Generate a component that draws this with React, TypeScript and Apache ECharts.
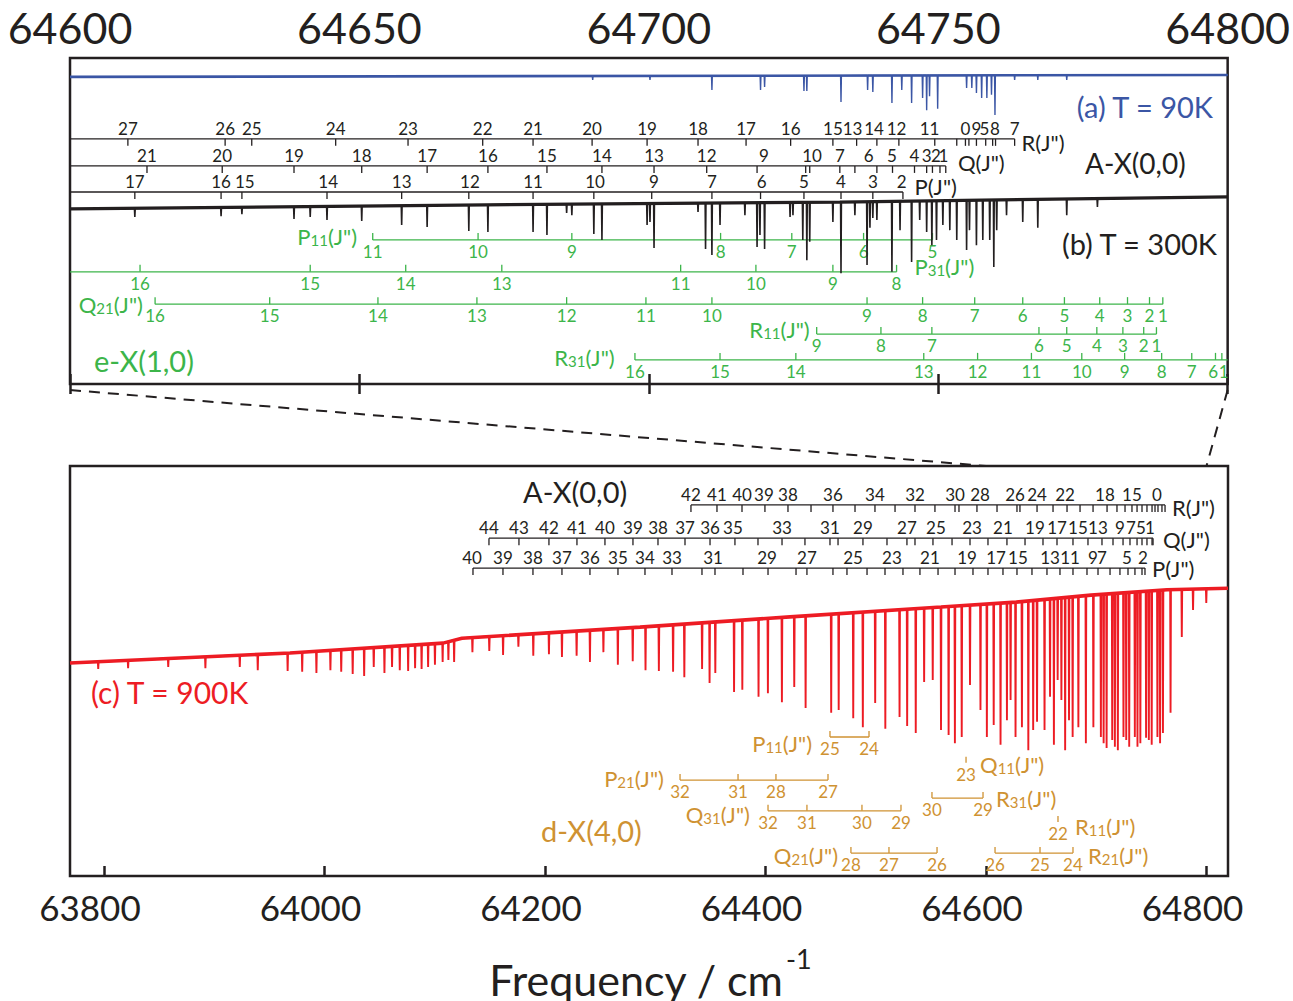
import React, { useEffect, useRef } from "react";
import * as echarts from "echarts";

type Pt = [number, number];
type Lbl = [number, string];

const FONT = "Lato, 'Noto Sans', 'DejaVu Sans', sans-serif";
const INK = "#231f20";
const BLUE = "#3b56a5";
const RED = "#ed1c24";
const GREEN = "#3cb54a";
const GOLD = "#cf9232";

// ---------- axes ----------
const TOP_RANGE: Pt = [64600, 64800];
const BOTTOM_RANGE: Pt = [63769.2, 64819.5];
const BOTTOM_TICKS = [63800, 64000, 64200, 64400, 64600, 64800];

// ---------- (a) T = 90 K : baseline knots and absorption minima ----------
const BASE_90K: Pt[] = [[64600, 94.2], [64800, 94.8]];
const LINES_90K: Pt[] = [
  [64690.3, 93.3], [64700.2, 93.3], [64710.9, 90.2], [64719.3, 90.2], [64720.0, 91.1],
  [64726.8, 89.9], [64727.3, 89.9], [64733.2, 86.5], [64737.8, 90.2], [64738.7, 89.6],
  [64742.0, 86.2], [64743.7, 90.2], [64745.4, 86.2], [64747.3, 87.7], [64748.0, 84.0],
  [64748.5, 88.3], [64749.9, 84.4], [64754.9, 90.8], [64755.8, 90.8], [64756.6, 89.3],
  [64757.5, 87.7], [64758.4, 87.7], [64759.2, 88.7], [64759.8, 82.5], [64763.2, 93.3],
  [64767.2, 93.3], [64772.2, 93.3],
];

// ---------- (b) T = 300 K ----------
const BASE_300K: Pt[] = [[64600, 53.7], [64667.4, 54.9], [64733.0, 55.8], [64800, 57.4]];
const LINES_300K: Pt[] = [
  [64611.2, 51.2], [64626.1, 51.5], [64629.7, 52.1], [64638.7, 50.6], [64641.5, 51.2],
  [64644.4, 50.3], [64650.4, 50.0], [64657.3, 48.8], [64661.7, 48.2], [64668.9, 46.9],
  [64672.2, 46.6], [64680.0, 46.6], [64682.4, 45.7], [64685.8, 52.5], [64686.7, 51.8],
  [64690.5, 46.0], [64691.9, 44.2], [64699.7, 48.8], [64700.2, 49.7], [64700.9, 41.7],
  [64708.5, 52.8], [64709.8, 41.4], [64710.9, 39.6], [64712.3, 48.8], [64716.6, 51.8],
  [64718.7, 42.0], [64719.2, 45.7], [64720.0, 41.4], [64724.4, 51.2], [64724.9, 51.8],
  [64726.6, 44.2], [64727.3, 38.0], [64727.8, 43.6], [64731.8, 49.7], [64733.2, 34.0],
  [64735.6, 51.8], [64737.7, 36.5], [64738.2, 47.9], [64738.7, 50.9], [64739.4, 50.3],
  [64742.0, 34.4], [64743.4, 47.2], [64745.4, 37.4], [64746.8, 50.3], [64748.0, 46.6],
  [64748.9, 42.6], [64749.7, 44.2], [64750.8, 48.8], [64752.0, 47.2], [64753.2, 44.2],
  [64754.9, 41.1], [64755.4, 47.2], [64756.6, 42.6], [64757.7, 44.2], [64758.9, 44.2],
  [64759.6, 35.9], [64760.1, 47.2], [64761.8, 51.8], [64764.6, 49.7], [64767.2, 47.9],
  [64772.2, 51.8], [64777.5, 54.3],
];

// ---------- (c) T = 900 K ----------
const BASE_900K: Pt[] = [
  [63769.2, 51.95], [63968.7, 54.4], [64107.5, 56.8], [64124.7, 58.0], [64286.2, 60.7],
  [64422.2, 63.2], [64559.2, 65.6], [64627.2, 66.8], [64695.2, 68.5], [64764.2, 69.8],
  [64819.5, 70.2],
];
const LINES_900K: Pt[] = [
  [63794.8, 50.5], [63821.9, 50.7], [63858.3, 51.0], [63892.0, 50.7], [63923.2, 51.0],
  [63939.5, 50.2], [63966.6, 50.0], [63979.8, 49.8], [63992.7, 49.5], [64005.4, 50.2],
  [64015.2, 49.8], [64025.6, 49.3], [64036.0, 48.8], [64044.7, 51.0], [64054.4, 49.5],
  [64061.3, 51.0], [64068.3, 50.2], [64075.9, 50.0], [64082.2, 50.7], [64088.1, 50.5],
  [64094.0, 51.0], [64100.2, 51.5], [64107.2, 52.2], [64112.4, 52.7], [64117.6, 52.2],
  [64134.2, 54.6], [64149.5, 54.9], [64162.0, 53.9], [64175.9, 55.9], [64189.4, 53.7],
  [64203.6, 54.1], [64215.4, 53.4], [64228.7, 53.7], [64240.8, 52.2], [64253.0, 54.6],
  [64266.1, 51.5], [64279.6, 52.4], [64291.2, 50.2], [64303.3, 50.0], [64316.2, 49.8],
  [64326.4, 48.5], [64342.5, 50.5], [64349.3, 47.1], [64354.5, 49.5], [64371.5, 44.9],
  [64379.0, 45.4], [64393.7, 43.7], [64402.2, 44.6], [64414.9, 42.4], [64426.1, 46.1],
  [64436.4, 41.0], [64459.6, 39.8], [64466.4, 40.5], [64479.6, 38.5], [64488.3, 36.3],
  [64499.5, 42.2], [64508.7, 35.9], [64521.6, 38.8], [64528.5, 36.6], [64536.3, 34.9],
  [64543.9, 47.3], [64551.7, 47.8], [64559.2, 35.6], [64566.1, 34.4], [64571.8, 32.4],
  [64578.0, 33.9], [64585.5, 46.6], [64595.0, 40.5], [64600.8, 33.9], [64607.0, 36.8],
  [64613.2, 32.0], [64619.0, 38.0], [64622.3, 42.9], [64626.8, 33.9], [64632.6, 36.3],
  [64638.4, 30.7], [64642.8, 35.6], [64646.3, 37.6], [64653.1, 35.6], [64658.1, 43.7],
  [64661.6, 32.0], [64665.0, 47.8], [64668.4, 42.9], [64671.8, 30.7], [64675.3, 38.0],
  [64678.6, 33.9], [64683.8, 36.3], [64690.6, 32.4], [64697.4, 36.3], [64704.2, 33.9],
  [64706.7, 32.4], [64709.4, 31.2], [64714.5, 33.2], [64716.9, 31.5], [64719.6, 30.7],
  [64724.7, 33.9], [64727.2, 33.2], [64729.9, 31.5], [64735.0, 33.9], [64737.4, 31.5],
  [64740.0, 32.4], [64745.2, 33.7], [64747.7, 33.2], [64750.3, 32.0], [64755.5, 33.9],
  [64757.9, 32.4], [64760.5, 34.9], [64767.4, 39.8], [64777.6, 58.3], [64787.8, 64.9],
  [64799.8, 66.6],
];

// ---------- A-X(0,0) assignments, top panel ----------
const TOP_R_TICKS = [
  64610.0, 64626.8, 64631.4, 64645.9, 64658.4, 64671.3, 64680.0, 64690.2, 64699.7, 64708.5,
  64716.8, 64724.5, 64731.8, 64735.9, 64739.4, 64743.2, 64749.4, 64753.2, 64754.7, 64755.3,
  64756.6, 64758.2, 64759.4, 64759.9, 64763.2,
];
const TOP_R_LABELS: Lbl[] = [
  [64610.0, "27"], [64626.8, "26"], [64631.4, "25"], [64645.9, "24"], [64658.4, "23"],
  [64671.3, "22"], [64680.0, "21"], [64690.2, "20"], [64699.7, "19"], [64708.5, "18"],
  [64716.8, "17"], [64724.5, "16"], [64731.8, "15"], [64735.2, "13"], [64738.9, "14"],
  [64742.8, "12"], [64748.5, "11"], [64754.7, "0"], [64756.6, "9"], [64758.0, "5"],
  [64759.8, "8"], [64763.2, "7"],
];
const TOP_Q_TICKS = [
  64613.3, 64626.3, 64638.7, 64650.4, 64661.7, 64672.2, 64682.4, 64691.9, 64700.9, 64710.0,
  64718.7, 64727.1, 64727.8, 64733.0, 64735.6, 64739.4, 64742.1, 64745.9, 64748.0, 64749.0,
  64750.3, 64751.3,
];
const TOP_Q_LABELS: Lbl[] = [
  [64613.3, "21"], [64626.3, "20"], [64638.7, "19"], [64650.4, "18"], [64661.7, "17"],
  [64672.2, "16"], [64682.4, "15"], [64691.9, "14"], [64700.9, "13"], [64710.0, "12"],
  [64719.9, "9"], [64728.2, "10"], [64733.0, "7"], [64738.0, "6"], [64742.0, "5"],
  [64745.9, "4"], [64748.0, "3"], [64749.6, "2"], [64750.9, "1"],
];
const TOP_P_TICKS = [
  64611.2, 64626.1, 64629.7, 64644.4, 64657.3, 64668.9, 64680.0, 64690.5, 64700.5, 64710.9,
  64719.3, 64726.8, 64733.2, 64738.7, 64743.9,
];
const TOP_P_LABELS: Lbl[] = [
  [64611.2, "17"], [64626.1, "16"], [64630.2, "15"], [64644.6, "14"], [64657.3, "13"],
  [64669.1, "12"], [64680.0, "11"], [64690.7, "10"], [64700.9, "9"], [64710.9, "7"],
  [64719.5, "6"], [64726.8, "5"], [64733.2, "4"], [64738.7, "3"], [64743.7, "2"],
];

// ---------- e-X(1,0) assignments ----------
const EX_P11_TICKS = [64652.3, 64670.5, 64686.7, 64712.4, 64724.7, 64737.1, 64749.0];
const EX_P11_J = ["11", "10", "9", "8", "7", "6", "5"];
const EX_P31_TICKS = [64612.1, 64641.5, 64658.0, 64674.6, 64705.5, 64718.5, 64731.8, 64742.8];
const EX_P31_J = ["16", "15", "14", "13", "11", "10", "9", "8"];
const EX_Q21_TICKS = [
  64614.7, 64634.5, 64653.2, 64670.3, 64685.8, 64699.5, 64710.9, 64737.7, 64747.3, 64756.3,
  64764.6, 64771.8, 64777.9, 64782.7, 64786.5, 64788.8,
];
const EX_Q21_J = ["16", "15", "14", "13", "12", "11", "10", "9", "8", "7", "6", "5", "4", "3", "2", "1"];
const EX_R11_TICKS = [64729.0, 64740.1, 64748.9, 64767.4, 64772.2, 64777.4, 64781.9, 64785.5, 64787.7];
const EX_R11_J = ["9", "8", "7", "6", "5", "4", "3", "2", "1"];
const EX_R31_TICKS = [
  64697.6, 64712.3, 64725.4, 64747.5, 64756.8, 64766.1, 64774.8, 64782.2, 64788.6, 64793.8,
  64797.9, 64799.0,
];
const EX_R31_LABELS: Lbl[] = [
  [64697.6, "16"], [64712.3, "15"], [64725.4, "14"], [64747.5, "13"], [64756.8, "12"],
  [64766.1, "11"], [64774.8, "10"], [64782.2, "9"], [64788.6, "8"], [64793.8, "7"],
  [64797.5, "6"], [64799.3, "1"],
];

// ---------- A-X(0,0) assignments, bottom panel ----------
const BOT_R_TICKS = [
  64332.4, 64356.0, 64378.7, 64399.5, 64420.4, 64441.3, 64461.2, 64481.2, 64499.3, 64517.5,
  64535.6, 64553.7, 64571.9, 64575.5, 64591.8, 64610.0, 64628.1, 64630.8, 64646.3, 64660.8,
  64673.5, 64685.3, 64697.1, 64709.8, 64718.8, 64726.1, 64732.4, 64737.0, 64741.5, 64746.0,
  64750.6, 64753.3, 64756.0, 64759.6, 64762.4,
];
const BOT_R_LABELS: Lbl[] = [
  [64332.4, "42"], [64356.0, "41"], [64378.7, "40"], [64398.6, "39"], [64420.4, "38"],
  [64461.2, "36"], [64499.3, "34"], [64535.6, "32"], [64571.9, "30"], [64594.6, "28"],
  [64626.3, "26"], [64646.3, "24"], [64671.7, "22"], [64707.9, "18"], [64732.4, "15"],
  [64755.1, "0"],
];
const BOT_Q_TICKS = [
  64149.2, 64176.4, 64203.6, 64229.0, 64254.4, 64279.8, 64302.5, 64327.0, 64349.7, 64372.3,
  64393.2, 64415.0, 64435.8, 64458.5, 64465.8, 64488.4, 64510.2, 64528.3, 64535.6, 64551.9,
  64569.2, 64585.5, 64601.8, 64619.0, 64635.4, 64651.7, 64664.4, 64678.9, 64692.5, 64705.2,
  64715.2, 64724.3, 64730.6, 64737.0, 64741.5, 64746.0, 64750.6, 64751.5,
];
const BOT_Q_LABELS: Lbl[] = [
  [64149.2, "44"], [64176.4, "43"], [64203.6, "42"], [64229.0, "41"], [64254.4, "40"],
  [64279.8, "39"], [64302.5, "38"], [64327.0, "37"], [64349.7, "36"], [64370.5, "35"],
  [64415.0, "33"], [64458.5, "31"], [64488.4, "29"], [64528.3, "27"], [64554.6, "25"],
  [64587.3, "23"], [64615.4, "21"], [64644.4, "19"], [64664.4, "17"], [64683.4, "15"],
  [64701.5, "13"], [64721.5, "9"], [64731.5, "7"], [64740.6, "5"], [64748.8, "1"],
];
const BOT_P_TICKS = [
  64134.7, 64161.9, 64189.1, 64215.4, 64240.8, 64266.2, 64290.7, 64315.2, 64342.4, 64354.2,
  64379.6, 64402.3, 64427.7, 64437.6, 64461.2, 64473.9, 64492.1, 64508.4, 64524.7, 64540.1,
  64556.5, 64571.9, 64588.2, 64601.8, 64615.4, 64628.1, 64641.7, 64655.3, 64667.1, 64678.9,
  64691.6, 64701.6, 64712.5, 64721.5, 64728.8, 64735.1, 64741.5, 64744.2,
];
const BOT_P_LABELS: Lbl[] = [
  [64133.8, "40"], [64161.9, "39"], [64189.1, "38"], [64215.4, "37"], [64240.8, "36"],
  [64266.2, "35"], [64290.7, "34"], [64315.2, "33"], [64352.4, "31"], [64401.4, "29"],
  [64437.6, "27"], [64479.4, "25"], [64514.7, "23"], [64549.2, "21"], [64582.8, "19"],
  [64609.1, "17"], [64629.0, "15"], [64658.1, "13"], [64676.2, "11"], [64697.1, "9"],
  [64705.2, "7"], [64727.9, "5"], [64742.4, "2"],
];

// ---------- d-X(4,0) assignments ----------
const DX_P11_TICKS = [64458.5, 64493.9];
const DX_P11_J = ["25", "24"];
const DX_P21_TICKS = [64322.5, 64375.1, 64409.5, 64456.7];
const DX_P21_J = ["32", "31", "28", "27"];
const DX_Q31_TICKS = [64402.3, 64437.6, 64487.5, 64522.9];
const DX_Q31_J = ["32", "31", "30", "29"];
const DX_Q21_TICKS = [64477.5, 64512.0, 64555.6];
const DX_Q21_J = ["28", "27", "26"];
const DX_Q11_TICKS = [64581.9];
const DX_Q11_J = ["23"];
const DX_R31_TICKS = [64551.0, 64597.3];
const DX_R31_J = ["30", "29"];
const DX_R11_TICKS = [64665.3];
const DX_R11_J = ["22"];
const DX_R21_TICKS = [64608.2, 64649.0, 64678.9];
const DX_R21_J = ["26", "25", "24"];

// ---------- helpers ----------
function baselineAt(base: Pt[], f: number): number {
  for (let i = 0; i < base.length - 1; i++) {
    const [x0, y0] = base[i];
    const [x1, y1] = base[i + 1];
    if (f >= x0 && f <= x1) return y0 + ((f - x0) / (x1 - x0)) * (y1 - y0);
  }
  return f < base[0][0] ? base[0][1] : base[base.length - 1][1];
}

// spectrum polyline: baseline knots plus a narrow notch for every absorption line
function traceData(base: Pt[], lines: Pt[], halfWidth: number): Pt[] {
  const pts: Pt[] = base.map((p) => [p[0], p[1]] as Pt);
  for (const [f, v] of lines) {
    const b = baselineAt(base, f);
    pts.push([f - halfWidth, b], [f, v], [f + halfWidth, b]);
  }
  return pts.sort((a, b) => a[0] - b[0]);
}

interface Ladder {
  grid: 0 | 1;
  level: number;
  ticks: number[];
  labels: Lbl[];
  up: boolean;
  color: string;
  tickLen: number;
  from?: number;
  to?: number;
}

const zip = (ticks: number[], j: string[]): Lbl[] => ticks.map((t, i) => [t, j[i]] as Lbl);

function ladderSeries(l: Ladder): any[] {
  const xi = l.grid === 0 ? 0 : 2;
  const yi = l.grid;
  const lo = l.from ?? Math.min(...l.ticks);
  const hi = l.to ?? Math.max(...l.ticks);
  const out: any[] = [];
  if (hi > lo) {
    out.push({
      type: "line", xAxisIndex: xi, yAxisIndex: yi, silent: true, z: 3,
      data: [[lo, l.level], [hi, l.level]], symbol: "none",
      lineStyle: { color: l.color, width: 1.3 },
    });
  }
  out.push({
    type: "custom", xAxisIndex: xi, yAxisIndex: yi, silent: true, z: 3, clip: false,
    encode: { x: 0, y: 1 },
    data: l.ticks.map((f) => [f, l.level]),
    renderItem: (_p: any, api: any) => {
      const c = api.coord([api.value(0), api.value(1)]);
      return {
        type: "line",
        shape: { x1: c[0], y1: c[1], x2: c[0], y2: c[1] + (l.up ? -l.tickLen : l.tickLen) },
        style: { stroke: l.color, lineWidth: 1.3 },
      };
    },
  });
  out.push({
    type: "custom", xAxisIndex: xi, yAxisIndex: yi, silent: true, z: 4, clip: false,
    encode: { x: 0, y: 1 },
    data: l.labels.map(([f]) => [f, l.level]),
    renderItem: (p: any, api: any) => {
      const c = api.coord([api.value(0), api.value(1)]);
      return {
        type: "text",
        x: c[0],
        y: l.up ? c[1] + 3 : c[1] - 2,
        style: {
          text: l.labels[p.dataIndex][1], fill: l.color, fontSize: 17, fontFamily: FONT,
          align: "center", verticalAlign: l.up ? "top" : "bottom",
        },
      };
    },
  });
  return out;
}

interface Tag { grid: 0 | 1; at: Pt; text: string; align: "left" | "right"; color: string; }

function tagSeries(tags: Tag[], grid: 0 | 1): any {
  const list = tags.filter((t) => t.grid === grid);
  return {
    type: "custom", xAxisIndex: grid === 0 ? 0 : 2, yAxisIndex: grid, silent: true, z: 4, clip: false,
    encode: { x: 0, y: 1 },
    data: list.map((t) => t.at),
    renderItem: (p: any, api: any) => {
      const t = list[p.dataIndex];
      const c = api.coord([api.value(0), api.value(1)]);
      return {
        type: "text", x: c[0], y: c[1],
        style: {
          text: t.text, fill: t.color, fontSize: 22, fontFamily: FONT, lineHeight: 22,
          align: t.align, verticalAlign: "middle",
          rich: { s: { fontSize: 15, lineHeight: 8, verticalAlign: "bottom", fill: t.color, fontFamily: FONT } },
        },
      };
    },
  };
}

const LADDERS: Ladder[] = [
  // A-X(0,0) top
  { grid: 0, level: 75.2, ticks: TOP_R_TICKS, labels: TOP_R_LABELS, up: false, color: INK, tickLen: 7, from: 64600 },
  { grid: 0, level: 66.9, ticks: TOP_Q_TICKS, labels: TOP_Q_LABELS, up: false, color: INK, tickLen: 7, from: 64600 },
  { grid: 0, level: 58.9, ticks: TOP_P_TICKS, labels: TOP_P_LABELS, up: false, color: INK, tickLen: 7, from: 64600 },
  // e-X(1,0)
  { grid: 0, level: 44.2, ticks: EX_P11_TICKS, labels: zip(EX_P11_TICKS, EX_P11_J), up: true, color: GREEN, tickLen: 7 },
  { grid: 0, level: 34.4, ticks: EX_P31_TICKS, labels: zip(EX_P31_TICKS, EX_P31_J), up: true, color: GREEN, tickLen: 7, from: 64600 },
  { grid: 0, level: 24.5, ticks: EX_Q21_TICKS, labels: zip(EX_Q21_TICKS, EX_Q21_J), up: true, color: GREEN, tickLen: 7 },
  { grid: 0, level: 15.3, ticks: EX_R11_TICKS, labels: zip(EX_R11_TICKS, EX_R11_J), up: true, color: GREEN, tickLen: 7 },
  { grid: 0, level: 7.4, ticks: EX_R31_TICKS, labels: EX_R31_LABELS, up: true, color: GREEN, tickLen: 7, to: 64800 },
  // A-X(0,0) bottom
  { grid: 1, level: 90.5, ticks: BOT_R_TICKS, labels: BOT_R_LABELS, up: false, color: INK, tickLen: 7 },
  { grid: 1, level: 82.4, ticks: BOT_Q_TICKS, labels: BOT_Q_LABELS, up: false, color: INK, tickLen: 7 },
  { grid: 1, level: 75.1, ticks: BOT_P_TICKS, labels: BOT_P_LABELS, up: false, color: INK, tickLen: 7 },
  // d-X(4,0)
  { grid: 1, level: 33.9, ticks: DX_P11_TICKS, labels: zip(DX_P11_TICKS, DX_P11_J), up: true, color: GOLD, tickLen: 6 },
  { grid: 1, level: 23.4, ticks: DX_P21_TICKS, labels: zip(DX_P21_TICKS, DX_P21_J), up: true, color: GOLD, tickLen: 6 },
  { grid: 1, level: 15.9, ticks: DX_Q31_TICKS, labels: zip(DX_Q31_TICKS, DX_Q31_J), up: true, color: GOLD, tickLen: 6 },
  { grid: 1, level: 5.6, ticks: DX_Q21_TICKS, labels: zip(DX_Q21_TICKS, DX_Q21_J), up: true, color: GOLD, tickLen: 6 },
  { grid: 1, level: 27.6, ticks: DX_Q11_TICKS, labels: zip(DX_Q11_TICKS, DX_Q11_J), up: true, color: GOLD, tickLen: 6 },
  { grid: 1, level: 19.0, ticks: DX_R31_TICKS, labels: zip(DX_R31_TICKS, DX_R31_J), up: true, color: GOLD, tickLen: 6 },
  { grid: 1, level: 13.2, ticks: DX_R11_TICKS, labels: zip(DX_R11_TICKS, DX_R11_J), up: true, color: GOLD, tickLen: 6 },
  { grid: 1, level: 5.6, ticks: DX_R21_TICKS, labels: zip(DX_R21_TICKS, DX_R21_J), up: true, color: GOLD, tickLen: 6 },
];

const TAGS: Tag[] = [
  { grid: 0, at: [64764.4, 74.2], text: 'R(J")', align: "left", color: INK },
  { grid: 0, at: [64753.4, 67.8], text: 'Q(J")', align: "left", color: INK },
  { grid: 0, at: [64745.9, 60.7], text: 'P(J")', align: "left", color: INK },
  { grid: 0, at: [64649.6, 45.1], text: 'P{s|11}(J")', align: "right", color: GREEN },
  { grid: 0, at: [64745.9, 35.9], text: 'P{s|31}(J")', align: "left", color: GREEN },
  { grid: 0, at: [64612.6, 24.3], text: 'Q{s|21}(J")', align: "right", color: GREEN },
  { grid: 0, at: [64727.8, 16.6], text: 'R{s|11}(J")', align: "right", color: GREEN },
  { grid: 0, at: [64694.1, 8.0], text: 'R{s|31}(J")', align: "right", color: GREEN },
  { grid: 1, at: [64768.7, 89.8], text: 'R(J")', align: "left", color: INK },
  { grid: 1, at: [64760.5, 82.0], text: 'Q(J")', align: "left", color: INK },
  { grid: 1, at: [64750.6, 75.1], text: 'P(J")', align: "left", color: INK },
  { grid: 1, at: [64442.2, 32.2], text: 'P{s|11}(J")', align: "right", color: GOLD },
  { grid: 1, at: [64307.9, 23.9], text: 'P{s|21}(J")', align: "right", color: GOLD },
  { grid: 1, at: [64385.9, 15.0], text: 'Q{s|31}(J")', align: "right", color: GOLD },
  { grid: 1, at: [64465.8, 5.1], text: 'Q{s|21}(J")', align: "right", color: GOLD },
  { grid: 1, at: [64594.6, 27.3], text: 'Q{s|11}(J")', align: "left", color: GOLD },
  { grid: 1, at: [64609.1, 19.0], text: 'R{s|31}(J")', align: "left", color: GOLD },
  { grid: 1, at: [64680.7, 12.0], text: 'R{s|11}(J")', align: "left", color: GOLD },
  { grid: 1, at: [64692.5, 5.1], text: 'R{s|21}(J")', align: "left", color: GOLD },
];

const tickStyle = { color: INK, width: 2.5 };

function buildOption(): any {
  const trace = (data: Pt[], color: string, xi: number, yi: number, width: number) => ({
    type: "line", xAxisIndex: xi, yAxisIndex: yi, data, symbol: "none", showSymbol: false,
    silent: true, z: 6, lineStyle: { color, width },
  });
  return {
    animation: false,
    backgroundColor: "#ffffff",
    textStyle: { fontFamily: FONT },
    grid: [
      { left: 70, top: 58, width: 1158, height: 326, show: true, borderColor: INK, borderWidth: 2.5 },
      { left: 70, top: 466, width: 1158, height: 410, show: true, borderColor: INK, borderWidth: 2.5 },
    ],
    xAxis: [
      {
        gridIndex: 0, type: "value", position: "top", min: TOP_RANGE[0], max: TOP_RANGE[1], interval: 50,
        axisLine: { show: false }, splitLine: { show: false },
        axisTick: { inside: true, length: 10, lineStyle: tickStyle },
        axisLabel: { fontSize: 43, color: INK, fontFamily: FONT, margin: 9, showMinLabel: true, showMaxLabel: true, formatter: (v: number) => String(v) },
      },
      {
        gridIndex: 0, type: "value", position: "bottom", min: TOP_RANGE[0], max: TOP_RANGE[1], interval: 50,
        axisLine: { show: false }, splitLine: { show: false },
        axisTick: { inside: true, length: 10, lineStyle: tickStyle },
        axisLabel: { show: false },
      },
      {
        gridIndex: 1, type: "value", position: "bottom", min: BOTTOM_RANGE[0], max: BOTTOM_RANGE[1],
        axisLine: { show: false }, splitLine: { show: false },
        axisTick: { inside: true, length: 10, lineStyle: tickStyle, customValues: BOTTOM_TICKS },
        axisLabel: {
          fontSize: 35, color: INK, fontFamily: FONT, margin: 13, padding: [0, 28, 0, 0],
          customValues: BOTTOM_TICKS, formatter: (v: number) => String(v),
        },
      },
    ],
    yAxis: [
      { gridIndex: 0, type: "value", min: 0, max: 100, show: false },
      { gridIndex: 1, type: "value", min: 0, max: 100, show: false },
    ],
    series: [
      ...LADDERS.flatMap(ladderSeries),
      tagSeries(TAGS, 0),
      tagSeries(TAGS, 1),
      // continuum drawn a little heavier, absorption trace on top of it
      trace(BASE_90K, BLUE, 0, 0, 2.6),
      trace(traceData(BASE_90K, LINES_90K, 0.07), BLUE, 0, 0, 1.4),
      trace(BASE_300K, INK, 0, 0, 3.2),
      trace(traceData(BASE_300K, LINES_300K, 0.07), INK, 0, 0, 1.6),
      trace(BASE_900K, RED, 2, 1, 3.6),
      trace(traceData(BASE_900K, LINES_900K, 0.35), RED, 2, 1, 1.9),
    ],
  };
}

function label(x: number, y: number, text: string, color: string, size: number, align = "left"): any {
  return {
    type: "text", x, y, z: 20, silent: true,
    style: { text, fill: color, fontSize: size, fontFamily: FONT, align, verticalAlign: "middle" },
  };
}

function buildGraphic(chart: echarts.ECharts): any[] {
  const px = (axis: any, v: number) => chart.convertToPixel(axis, v) as unknown as number;
  const x0 = px({ xAxisIndex: 1 }, 64600);
  const x1 = px({ xAxisIndex: 1 }, 64800);
  const yTop = px({ yAxisIndex: 0 }, 0);
  const u0 = px({ xAxisIndex: 2 }, 64600);
  const u1 = px({ xAxisIndex: 2 }, 64800);
  const yBot = px({ yAxisIndex: 1 }, 100);
  const dash = { stroke: INK, lineWidth: 2, lineDash: [11, 8] };
  return [
    { type: "line", silent: true, shape: { x1: x0, y1: yTop + 6, x2: u0, y2: yBot }, style: dash },
    { type: "line", silent: true, shape: { x1: x1, y1: yTop + 6, x2: u1, y2: yBot }, style: dash },
    label(1213, 106, "(a) T = 90K", BLUE, 29, "right"),
    label(1085, 163, "A-X(0,0)", INK, 28),
    label(1217, 243, "(b) T = 300K", INK, 29, "right"),
    label(94, 360, "e-X(1,0)", GREEN, 29),
    label(523, 491, "A-X(0,0)", INK, 29),
    label(91, 692, "(c) T = 900K", RED, 30),
    label(541, 830, "d-X(4,0)", GOLD, 29),
    label(783, 979, "Frequency / cm", INK, 43, "right"),
    label(786, 958, "-1", INK, 27),
  ];
}

export default function App() {
  const ref = useRef<HTMLDivElement>(null);
  useEffect(() => {
    if (!ref.current) return;
    const chart = echarts.init(ref.current, undefined, { renderer: "svg" });
    chart.setOption(buildOption());
    chart.setOption({ graphic: buildGraphic(chart) });
    return () => chart.dispose();
  }, []);
  return (
    <div
      ref={ref}
      style={{ position: "absolute", left: 0, top: 0, width: 1293, height: 1001, background: "#ffffff" }}
    />
  );
}
